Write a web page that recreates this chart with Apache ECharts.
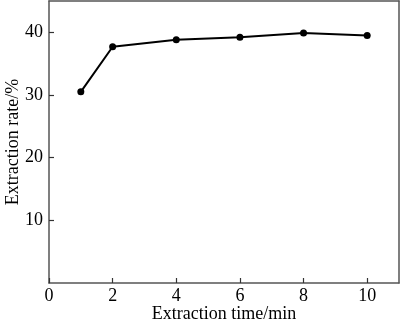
<!DOCTYPE html>
<html><head><meta charset="utf-8">
<script src="https://cdn.jsdelivr.net/npm/echarts@6/dist/echarts.min.js"></script>
<style>html,body{margin:0;padding:0;background:#fff}#c{width:400px;height:322px}</style>
</head><body><div id="c"></div>
<script>
const times = [1, 2, 4, 6, 8, 10];
const rates = [30.5, 37.7, 38.8, 39.2, 39.9, 39.5];
const xTicks = [0, 2, 4, 6, 8, 10];
const yTicks = [10, 20, 30, 40];

const font = '"Liberation Serif","DejaVu Serif",serif';
const chart = echarts.init(document.getElementById('c'));
const axisCol = '#555';
const tickStyle = {show: true, inside: true, length: 5, lineStyle: {color: '#333', width: 1.2}};
const borderAxis = {
  axisLine: {show: true, onZero: false, lineStyle: {color: axisCol, width: 1.5}},
  axisTick: {show: false}, axisLabel: {show: false}, splitLine: {show: false}
};
chart.setOption({
  animation: false,
  grid: {left: 49, right: 1, top: 1, bottom: 39, containLabel: false, outerBoundsMode: 'none', show: false},
  xAxis: [{
    type: 'value', min: 0, max: 11, interval: 2, position: 'bottom',
    name: 'Extraction time/min', nameLocation: 'middle', nameGap: 22, nameMoveOverlap: false,
    nameTextStyle: {fontFamily: font, fontSize: 18, color: '#000'},
    axisLine: {show: true, onZero: false, lineStyle: {color: axisCol, width: 1.5}},
    axisTick: tickStyle,
    axisLabel: {fontFamily: font, fontSize: 18, color: '#000', margin: 4,
      showMaxLabel: false,
      formatter: v => xTicks.includes(v) ? String(v) : ''},
    splitLine: {show: false}
  }, Object.assign({type: 'value', min: 0, max: 11, position: 'top'}, borderAxis)],
  yAxis: [{
    type: 'value', min: 0, max: 45, interval: 10, position: 'left',
    name: 'Extraction rate/%', nameLocation: 'middle', nameGap: 27, nameMoveOverlap: false,
    nameTextStyle: {fontFamily: font, fontSize: 18, color: '#000'},
    axisLine: {show: true, onZero: false, lineStyle: {color: axisCol, width: 1.5}},
    axisTick: tickStyle,
    axisLabel: {fontFamily: font, fontSize: 18, color: '#000', margin: 6,
      showMinLabel: false, showMaxLabel: false,
      formatter: v => yTicks.includes(v) ? String(v) : ''},
    splitLine: {show: false}
  }, Object.assign({type: 'value', min: 0, max: 45, position: 'right'}, borderAxis)],
  series: [{
    type: 'line',
    data: times.map((t, i) => [t, rates[i]]),
    symbol: 'circle', symbolSize: 7,
    lineStyle: {color: '#000', width: 2},
    itemStyle: {color: '#000'}
  }]
});
</script></body></html>
